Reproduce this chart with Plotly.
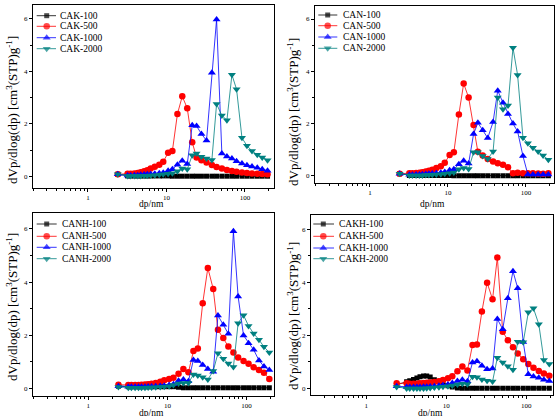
import plotly.graph_objects as go

# ---------------- data ----------------
dp = [2.4, 3.2, 3.5, 3.9, 4.3, 4.7, 5.2, 5.7, 6.3, 7.1, 8.1, 9.1, 10.5, 11.9, 13.8, 15.9,
      18.4, 21.3, 24.2, 27.9, 32.4, 37.9, 43.5, 50.8, 58.9, 68.2, 78.2, 91.6, 106, 123,
      143.5, 166, 194]

cak_100 = [0.08] + [0.02] * 12 + [0.01] * 20
cak_500 = [0.08, 0.10, 0.10, 0.11, 0.13, 0.16, 0.20, 0.24, 0.30, 0.37, 0.45, 0.56, 0.90, 0.97,
           2.38, 3.05, 2.60, 1.30, 0.72, 0.62, 0.53, 0.44, 0.36, 0.30, 0.25, 0.21, 0.18, 0.15,
           0.13, 0.11, 0.10, 0.09, 0.08]
cak_1000 = [0.08, 0.04, 0.04, 0.05, 0.05, 0.06, 0.07, 0.08, 0.09, 0.10, 0.12, 0.14, 0.22, 0.27,
            0.45, 0.60, 0.47, 1.95, 1.92, 1.62, 1.37, 3.95, 5.98, 0.87, 0.76, 0.68, 0.58, 0.49,
            0.43, 0.38, 0.33, 0.27, 0.22]
cak_2000 = [0.08, 0.02, 0.02, 0.02, 0.02, 0.02, 0.03, 0.03, 0.04, 0.05, 0.06, 0.08, 0.10, 0.12,
            0.20, 0.30, 0.27, 0.81, 0.87, 0.75, 0.68, 0.63, 2.76, 2.32, 2.14, 3.87, 3.32, 1.47,
            1.17, 0.97, 0.83, 0.72, 0.62]

can_100 = [0.08] + [0.02] * 12 + [0.01] * 20
can_500 = [0.08, 0.10, 0.10, 0.11, 0.12, 0.14, 0.17, 0.20, 0.24, 0.30, 0.37, 0.50, 0.80, 0.90,
           2.35, 3.53, 3.00, 1.95, 0.92, 0.78, 0.65, 0.55, 0.48, 0.43, 0.33, 0.10, 0.12, 0.10,
           0.10, 0.10, 0.09, 0.08, 0.10]
can_1000 = [0.08, 0.04, 0.04, 0.05, 0.05, 0.06, 0.07, 0.08, 0.09, 0.10, 0.12, 0.15, 0.22, 0.25,
            0.45, 0.58, 0.47, 1.60, 2.03, 1.75, 1.45, 2.06, 3.26, 2.80, 2.37, 2.00, 1.70, 0.76,
            0.05, 0.05, 0.05, 0.05, 0.05]
can_2000 = [0.08, 0.02, 0.02, 0.02, 0.02, 0.02, 0.03, 0.03, 0.04, 0.05, 0.06, 0.08, 0.10, 0.13,
            0.25, 0.30, 0.26, 0.90, 0.90, 0.76, 0.65, 0.93, 3.00, 2.55, 2.69, 4.90, 3.86, 1.46,
            1.25, 1.08, 0.93, 0.78, 0.62]

canh_100 = [0.08] + [0.06] * 13 + [0.04] + [0.02] * 18
canh_500 = [0.13, 0.12, 0.12, 0.12, 0.12, 0.13, 0.14, 0.15, 0.17, 0.20, 0.25, 0.30, 0.35, 0.40,
            0.55, 0.73, 0.60, 1.40, 1.50, 3.20, 4.53, 3.74, 2.20, 1.89, 1.57, 1.35, 1.16, 1.03,
            0.92, 0.79, 0.69, 0.59, 0.35]
canh_1000 = [0.08, 0.06, 0.06, 0.06, 0.06, 0.06, 0.06, 0.07, 0.07, 0.08, 0.09, 0.10, 0.12, 0.15,
             0.28, 0.33, 0.27, 1.07, 1.03, 0.88, 0.73, 0.62, 2.74, 2.39, 2.05, 5.91, 3.46, 1.99,
             1.70, 1.45, 1.05, 0.82, 0.69]
canh_2000 = [0.05, 0.02, 0.02, 0.02, 0.02, 0.02, 0.02, 0.03, 0.03, 0.04, 0.05, 0.06, 0.08, 0.12,
             0.18, 0.20, 0.20, 0.52, 0.48, 0.42, 0.33, 0.65, 1.32, 1.11, 0.93, 0.80, 2.45, 2.75,
             2.35, 2.06, 1.83, 1.56, 1.35]

cakh_100 = [0.13, 0.25, 0.29, 0.34, 0.39, 0.44, 0.47, 0.47, 0.43, 0.33, 0.27, 0.20, 0.10, 0.05,
            0.02] + [0.01] * 18
cakh_500 = [0.19, 0.19, 0.18, 0.18, 0.18, 0.19, 0.20, 0.21, 0.22, 0.24, 0.27, 0.32, 0.38, 0.46,
            0.65, 0.83, 0.68, 1.64, 1.66, 2.90, 3.99, 3.36, 4.94, 2.14, 1.82, 1.55, 1.32, 1.10,
            0.92, 0.78, 0.66, 0.56, 0.48]
cakh_1000 = [0.08, 0.05, 0.05, 0.05, 0.05, 0.05, 0.06, 0.06, 0.07, 0.08, 0.10, 0.12, 0.15, 0.20,
             0.28, 0.33, 0.27, 0.98, 1.02, 0.85, 0.72, 0.75, 2.62, 2.23, 3.40, 4.42, 3.78, 1.75,
             0.53, 0.45, 0.40, 0.33, 0.28]
cakh_2000 = [0.05, 0.00, 0.00, 0.00, 0.00, 0.00, 0.00, 0.01, 0.02, 0.03, 0.04, 0.06, 0.08, 0.11,
             0.15, 0.18, 0.16, 0.44, 0.42, 0.34, 0.29, 0.26, 1.16, 0.98, 0.84, 0.70, 1.76, 1.74,
             2.87, 3.02, 2.42, 1.07, 0.92]

x_tick_vals = [1, 10, 100]
x_tick_text = ["1", "10", "100"]
y_tick_vals = [0, 2, 4, 6]

suffixes = ["100", "500", "1000", "2000"]
panels = [
    ("CAK", [cak_100, cak_500, cak_1000, cak_2000]),
    ("CAN", [can_100, can_500, can_1000, can_2000]),
    ("CANH", [canh_100, canh_500, canh_1000, canh_2000]),
    ("CAKH", [cakh_100, cakh_500, cakh_1000, cakh_2000]),
]

# ---------------- style ----------------
W, H = 559, 416
FONT = "Liberation Serif, Times New Roman, serif"
colors = ["#000000", "#FF0000", "#0000FF", "#008080"]
symbols = ["square", "circle", "triangle-up", "triangle-down"]
sizes = [5, 6.5, 7, 7]

# pixel boxes: (left, right, top, bottom), x log range, y range
boxes = [
    (33, 274, 5, 188, [-0.70, 2.37], [-0.44, 6.53]),
    (315, 554, 5.7, 182.7, [-0.705, 2.36], [-0.26, 6.51]),
    (33, 274, 213, 396, [-0.70, 2.347], [-0.29, 6.6]),
    (311, 553, 215.3, 395.3, [-0.69, 2.334], [-0.26, 6.53]),
]
# legend: (line x0, marker x, line x1, text x, [row y...])
legends = [
    (36.7, 46.7, 56, 58.3, [15.7, 26.3, 37.7, 48.7]),
    (318.3, 327.7, 337.3, 340.7, [15, 25.7, 37, 48.3]),
    (36.7, 46.7, 56.7, 60, [224, 236.3, 247.3, 258.7]),
    (313.3, 323.3, 334, 336.7, [224, 236.3, 248, 258.7]),
]
ytitle_pos = [(12, 110), (293, 112), (12, 307), (293, 316)]
xtitle_pos = [(151, 204), (432, 204), (151, 413), (430, 413)]

fig = go.Figure()
layout = dict(
    width=W, height=H, margin=dict(l=0, r=0, t=0, b=0),
    paper_bgcolor="white", plot_bgcolor="rgba(0,0,0,0)",
    showlegend=False, font=dict(family=FONT, color="black"),
)
annotations = []

for i, ((name, series), box) in enumerate(zip(panels, boxes)):
    l, r, t, b, xr, yr = box
    ax = "" if i == 0 else str(i + 1)
    for k in range(4):
        fig.add_trace(go.Scatter(
            x=dp, y=series[k], mode="lines+markers", name=f"{name}-{suffixes[k]}",
            xaxis="x" + ax, yaxis="y" + ax,
            line=dict(color=colors[k], width=0.8),
            marker=dict(symbol=symbols[k], size=sizes[k], color=colors[k], line=dict(width=0)),
        ))
    layout["xaxis" + ax] = dict(
        type="log", range=xr, domain=[l / W, r / W], anchor="y" + ax,
        showline=True, linecolor="black", linewidth=1, mirror=True,
        ticks="outside", ticklen=3, tickcolor="black", tickwidth=1,
        tickmode="array", tickvals=x_tick_vals, ticktext=x_tick_text, ticklabelstandoff=0,
        minor=dict(ticks="outside", ticklen=2, tickcolor="black", dtick="D1", showgrid=False),
        showgrid=False, zeroline=False, tickfont=dict(size=7, family=FONT),
    )
    layout["yaxis" + ax] = dict(
        range=yr, domain=[1 - b / H, 1 - t / H], anchor="x" + ax,
        showline=True, linecolor="black", linewidth=1, mirror=True,
        ticks="outside", ticklen=3, tickcolor="black", tickwidth=1,
        tickmode="array", tickvals=y_tick_vals,
        minor=dict(ticks="outside", ticklen=2, tickcolor="black", dtick=1, tick0=0,
                   showgrid=False),
        showgrid=False, zeroline=False, tickfont=dict(size=7, family=FONT),
    )
    # axis titles
    yx, yy = ytitle_pos[i]
    annotations.append(dict(
        text="dVp/dlog(dp) [cm<sup>3</sup>(STP)g<sup>-1</sup>]", textangle=-90,
        x=yx / W, y=1 - yy / H, xref="paper", yref="paper", showarrow=False,
        xanchor="center", yanchor="middle", font=dict(size=13, family=FONT),
    ))
    xx, xy = xtitle_pos[i]
    annotations.append(dict(
        text="dp/nm", x=xx / W, y=1 - xy / H, xref="paper", yref="paper",
        showarrow=False, xanchor="center", yanchor="middle", font=dict(size=9.5, family=FONT),
    ))
    # legend (drawn on a pixel overlay axis)
    lx0, lxm, lx1, tx, rows = legends[i]
    for k in range(4):
        fig.add_trace(go.Scatter(
            x=[lx0, lxm, lx1], y=[rows[k]] * 3, mode="lines+markers",
            xaxis="x5", yaxis="y5", hoverinfo="skip",
            line=dict(color=colors[k], width=0.8),
            marker=dict(symbol=symbols[k], size=[0, sizes[k], 0], color=colors[k],
                        line=dict(width=0)),
        ))
        annotations.append(dict(
            text=f"{name}-{suffixes[k]}", x=tx / W, y=1 - rows[k] / H,
            xref="paper", yref="paper", showarrow=False, xanchor="left", yanchor="middle",
            font=dict(size=9.5, family=FONT),
        ))

layout["xaxis5"] = dict(domain=[0, 1], range=[0, W], visible=False, anchor="y5")
layout["yaxis5"] = dict(domain=[0, 1], range=[H, 0], visible=False, anchor="x5")
layout["annotations"] = annotations
fig.update_layout(**layout)
fig.write_html("out.html")
